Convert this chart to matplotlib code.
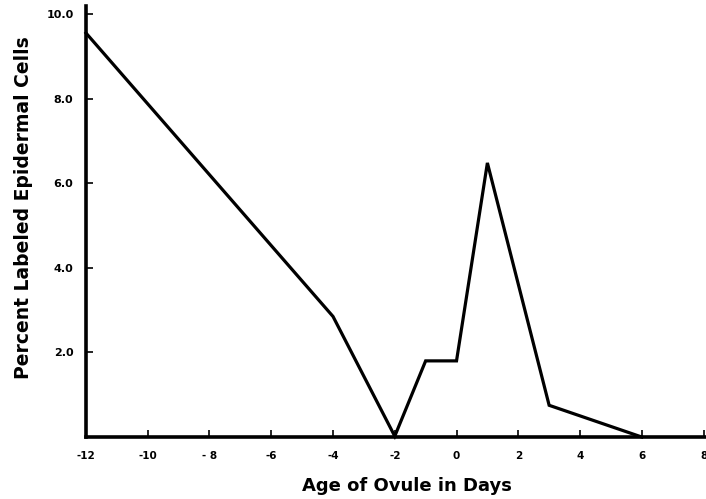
import matplotlib
matplotlib.use("Agg")
import matplotlib.pyplot as plt

# Labeling of ovule epidermal cells vs. ovule age
age_days = [-12, -4, -2, -1, 0, 1, 3, 5, 6]
percent_labeled = [9.55, 2.85, 0.02, 1.8, 1.8, 6.48, 0.75, 0.25, 0.0]

x_ticks = [-12, -10, -8, -6, -4, -2, 0, 2, 4, 6, 8]
x_tick_labels = ["-12", "-10", "- 8", "-6", "-4", "-2", "0", "2", "4", "6", "8"]
y_ticks = [2.0, 4.0, 6.0, 8.0, 10.0]
y_tick_labels = ["2.0", "4.0", "6.0", "8.0", "10.0"]

plt.rcParams["font.family"] = ["DejaVu Sans"]

fig = plt.figure(figsize=(7.06, 4.99), dpi=100)
ax = fig.add_axes([0.1218, 0.1242, 0.8782, 0.8647])

ax.plot(age_days, percent_labeled, color="black", linewidth=2.3,
        solid_joinstyle="miter", clip_on=False, zorder=3)

ax.set_xlim(-12, 8.08)
ax.set_ylim(0, 10.2)

ax.set_xticks(x_ticks)
ax.set_xticklabels(x_tick_labels, fontsize=7.5, fontweight="bold")
ax.set_yticks(y_ticks)
ax.set_yticklabels(y_tick_labels, fontsize=8, fontweight="bold")

ax.tick_params(axis="both", direction="in", length=5, width=1.2, color="black")
ax.tick_params(axis="x", pad=10)
ax.tick_params(axis="y", pad=9)

for side in ("top", "right"):
    ax.spines[side].set_visible(False)
for side in ("left", "bottom"):
    ax.spines[side].set_linewidth(2.6)

ax.set_xlabel("Age of Ovule in Days", fontsize=13, fontweight="bold")
ax.set_ylabel("Percent Labeled Epidermal Cells", fontsize=13.5, fontweight="bold")
ax.xaxis.set_label_coords(0.517, -0.092)
ax.yaxis.set_label_coords(-0.086, 0.532)

fig.savefig("out.png", dpi=100, facecolor="white")
